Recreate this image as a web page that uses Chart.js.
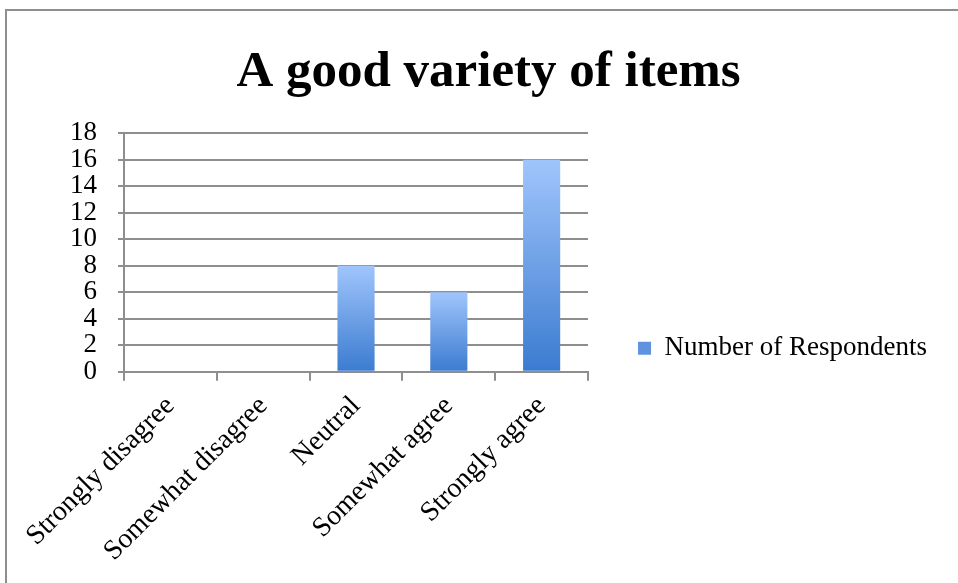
<!DOCTYPE html>
<html>
<head>
<meta charset="utf-8">
<script src="https://cdn.jsdelivr.net/npm/chart.js@4.4.1/dist/chart.umd.min.js"></script>
<style>
  html, body { margin: 0; padding: 0; background: #fff; }
  #wrap { position: relative; width: 958px; height: 583px; overflow: hidden; }
  #frame { position: absolute; left: 5px; top: 9px; width: 1000px; height: 1000px; border: 2px solid #8e8e8e; box-sizing: border-box; }
  #myChart { position: absolute; left: 0; top: 0; }
</style>
</head>
<body>
<div id="wrap">
  <div id="frame"></div>
  <canvas id="myChart" width="958" height="583"></canvas>
</div>
<script>
// respostas da pesquisa
const categorias = ["Strongly disagree", "Somewhat disagree", "Neutral", "Somewhat agree", "Strongly agree"];
const respondentes = [0, 0, 8, 6, 16];
const titulo = "A good variety of items";
const nomeSerie = "Number of Respondents";

const corTopo = "#a0c5fc";
const corBase = "#3b7bd0";
const corMeio = "#5f93df";
const corCinza = "#8e8e8e";
const fonte = "'Liberation Serif', 'Times New Roman', serif";

// degradê claro em cima, escuro embaixo, um por barra
function corBarra(ctx) {
  const chart = ctx.chart;
  if (ctx.type !== "data" || !chart.chartArea) {
    return corMeio;
  }
  const y = chart.scales.y;
  const topo = y.getPixelForValue(ctx.raw);
  const base = y.getPixelForValue(0);
  if (Math.abs(base - topo) < 1) return corMeio; // barra zerada (e caixinha da legenda)
  const g = chart.ctx.createLinearGradient(0, topo, 0, base);
  g.addColorStop(0, corTopo);
  g.addColorStop(1, corBase);
  return g;
}

// empurra a legenda um pouco para a direita e para baixo
const ajusteLegenda = {
  id: "ajusteLegenda",
  afterLayout(chart) {
    const leg = chart.legend;
    if (!leg) return;
    leg.left += 9;
    leg.right += 9;
    leg.top += 31;
    leg.bottom += 31;
  },
};

const dados = {
  labels: categorias,
  datasets: [
    {
      label: nomeSerie,
      data: respondentes,
      backgroundColor: corBarra,
      borderWidth: 0,
      barPercentage: 0.4,
      categoryPercentage: 1.0,
    },
  ],
};

const config = {
  type: "bar",
  data: dados,
  plugins: [ajusteLegenda],
  options: {
    responsive: false,
    animation: false,
    layout: {
      padding: { left: 49, right: 30, top: 0, bottom: 6 },
    },
    plugins: {
      title: {
        display: true,
        text: titulo,
        color: "#000",
        font: { family: fonte, size: 51, weight: "bold" },
        padding: { top: 42, bottom: 30 },
      },
      legend: {
        display: true,
        position: "right",
        align: "end",
        fullSize: false,
        maxWidth: 500,
        labels: {
          color: "#000",
          font: { family: fonte, size: 27 },
          boxWidth: 13,
          boxHeight: 13,
          padding: 41,
        },
      },
      tooltip: { enabled: false },
    },
    scales: {
      x: {
        // os rótulos inclinados podem passar da borda esquerda
        afterFit(eixo) {
          eixo.paddingLeft = 0;
        },
        grid: {
          display: true,
          drawOnChartArea: false,
          color: corCinza,
          lineWidth: 2,
          tickLength: 9,
          offset: true,
        },
        border: { display: true, color: corCinza, width: 2 },
        ticks: {
          color: "#000",
          font: { family: fonte, size: 28 },
          minRotation: 45,
          maxRotation: 45,
          padding: 9,
        },
      },
      y: {
        min: 0,
        max: 18,
        grid: {
          color: corCinza,
          lineWidth: 2,
          tickLength: 6,
        },
        border: { display: true, color: corCinza, width: 2 },
        ticks: {
          stepSize: 2,
          autoSkip: false,
          color: "#000",
          font: { family: fonte, size: 27 },
          padding: 21,
        },
      },
    },
  },
};

let myChart = new Chart(document.getElementById("myChart"), config);
</script>
</body>
</html>
